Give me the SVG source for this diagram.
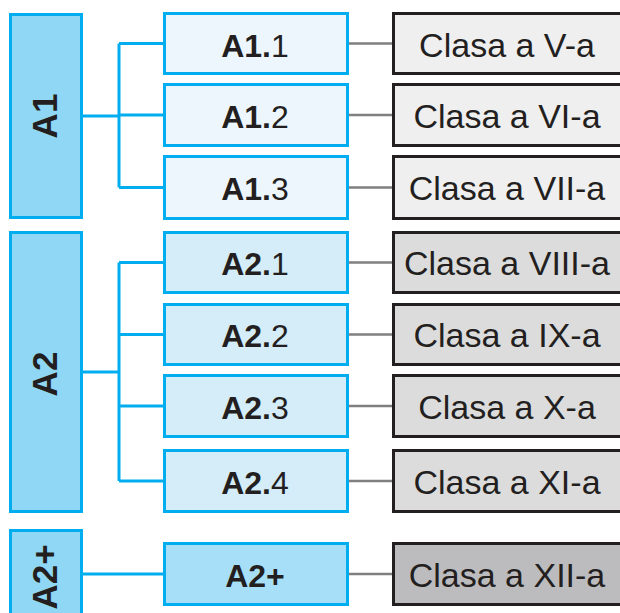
<svg xmlns="http://www.w3.org/2000/svg" width="620" height="613" viewBox="0 0 620 613">
<style>
.big{fill:#8fd7f5;stroke:#00aeef;stroke-width:3}
.m1{fill:#eef6fd;stroke:#00aeef;stroke-width:3}
.m2{fill:#d5ecf9;stroke:#00aeef;stroke-width:3}
.m3{fill:#a8dff8;stroke:#00aeef;stroke-width:3}
.c1{fill:#efeff0;stroke:#231f20;stroke-width:3}
.c2{fill:#dcdcdd;stroke:#231f20;stroke-width:3}
.c3{fill:#bcbcbe;stroke:#231f20;stroke-width:3}
.bl{fill:none;stroke:#00aeef;stroke-width:3}
.gl{fill:none;stroke:#808080;stroke-width:2.5}
text{font-family:"Liberation Sans",Arial,sans-serif;fill:#231f20;text-anchor:middle}
.rt{font-size:35px;font-weight:bold}
.ml{font-size:32px}
.b{font-weight:bold}
.cl{font-size:34px}
</style>
<rect width="620" height="613" fill="#ffffff"/>
<g id="connectors">
<path class="bl" d="M83 116H119M119 43.5V187.5M119 43.5H163M119 115H163M119 187.5H163"/>
<path class="bl" d="M83 372H119M119 262.5V481M119 262.5H163M119 334.5H163M119 406H163M119 481H163"/>
<path class="bl" d="M83 574H163"/>
<path class="gl" d="M349 43.5H392M349 115H392M349 187.5H392M349 262.5H392M349 334.5H392M349 406H392M349 481H392M349 574H392"/>
</g>
<g id="A1"><rect class="big" x="10.5" y="14.5" width="71" height="203"/><text class="rt" transform="translate(57,116) rotate(-90)">A1</text></g>
<g id="A2"><rect class="big" x="10.5" y="232.5" width="71" height="279"/><text class="rt" transform="translate(57,374) rotate(-90)">A2</text></g>
<g id="A2plus"><rect class="big" x="10.5" y="530.5" width="71" height="90"/><text class="rt" transform="translate(57,577) rotate(-90)">A2+</text></g>

<g id="A1_1"><rect class="m1" x="164.5" y="13.5" width="183" height="60"/><text class="ml" x="255" y="56.5"><tspan class="b">A1.</tspan>1</text></g>
<g id="A1_2"><rect class="m1" x="164.5" y="84.5" width="183" height="61"/><text class="ml" x="255" y="127.5"><tspan class="b">A1.</tspan>2</text></g>
<g id="A1_3"><rect class="m1" x="164.5" y="156.5" width="183" height="62"/><text class="ml" x="255" y="200"><tspan class="b">A1.</tspan>3</text></g>
<g id="A2_1"><rect class="m2" x="164.5" y="232.5" width="183" height="60"/><text class="ml" x="255" y="275"><tspan class="b">A2.</tspan>1</text></g>
<g id="A2_2"><rect class="m2" x="164.5" y="304.5" width="183" height="60"/><text class="ml" x="255" y="347"><tspan class="b">A2.</tspan>2</text></g>
<g id="A2_3"><rect class="m2" x="164.5" y="375.5" width="183" height="61"/><text class="ml" x="255" y="418.5"><tspan class="b">A2.</tspan>3</text></g>
<g id="A2_4"><rect class="m2" x="164.5" y="450.5" width="183" height="61"/><text class="ml" x="255" y="493.5"><tspan class="b">A2.</tspan>4</text></g>
<g id="A2p"><rect class="m3" x="164.5" y="543.5" width="183" height="61"/><text class="ml b" x="255" y="586.5">A2+</text></g>

<g id="C5"><rect class="c1" x="393.5" y="13.5" width="240" height="60"/><text class="cl" x="507" y="56.5">Clasa a V-a</text></g>
<g id="C6"><rect class="c1" x="393.5" y="84.5" width="240" height="61"/><text class="cl" x="507" y="127.5">Clasa a VI-a</text></g>
<g id="C7"><rect class="c1" x="393.5" y="156.5" width="240" height="62"/><text class="cl" x="507" y="200">Clasa a VII-a</text></g>
<g id="C8"><rect class="c2" x="393.5" y="232.5" width="240" height="60"/><text class="cl" x="507" y="275">Clasa a VIII-a</text></g>
<g id="C9"><rect class="c2" x="393.5" y="304.5" width="240" height="60"/><text class="cl" x="507" y="347">Clasa a IX-a</text></g>
<g id="C10"><rect class="c2" x="393.5" y="375.5" width="240" height="61"/><text class="cl" x="507" y="418.5">Clasa a X-a</text></g>
<g id="C11"><rect class="c2" x="393.5" y="450.5" width="240" height="61"/><text class="cl" x="507" y="493.5">Clasa a XI-a</text></g>
<g id="C12"><rect class="c3" x="393.5" y="543.5" width="240" height="61"/><text class="cl" x="507" y="586.5">Clasa a XII-a</text></g>
</svg>
